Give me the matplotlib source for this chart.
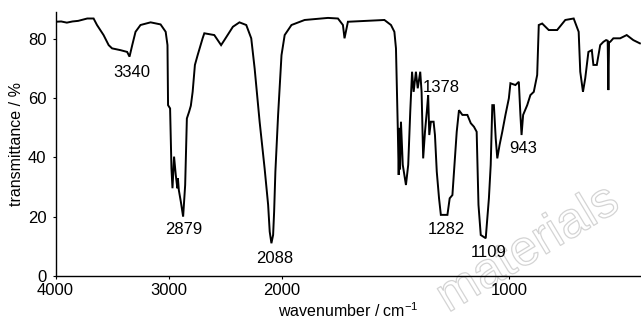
import numpy as np
import matplotlib
matplotlib.use("Agg")
import matplotlib.pyplot as plt
from matplotlib import patheffects as pe

# ---- data ----
wavenumber = [4000, 3950, 3900, 3850, 3800, 3720, 3664, 3634, 3576, 3531, 3501, 3427, 3368, 3347,
              3323, 3294, 3250, 3161, 3073, 3028, 3012, 3007, 2989, 2977, 2968, 2954, 2939, 2925,
              2920, 2912, 2894, 2874, 2856, 2841, 2821, 2806, 2790, 2770, 2746, 2702, 2687, 2599,
              2539, 2510, 2435, 2377, 2317, 2273, 2243, 2199, 2155, 2124, 2110, 2095, 2080, 2071,
              2060, 2036, 2006, 1989, 1959, 1901, 1798, 1754, 1732, 1725, 1710, 1549, 1520, 1505,
              1498, 1490, 1486, 1482, 1480, 1476, 1468, 1454, 1444, 1435, 1427, 1420, 1410, 1402,
              1391, 1385, 1378, 1370, 1362, 1356, 1351, 1344, 1332, 1326, 1318, 1308, 1300, 1271,
              1261, 1249, 1239, 1230, 1220, 1205, 1183, 1168, 1154, 1142, 1134, 1124, 1102, 1088,
              1080, 1073, 1066, 1058, 1051, 1041, 1029, 1015, 1000, 993, 971, 956, 949, 944, 937,
              919, 905, 890, 875, 868, 853, 824, 787, 751, 714, 692, 685, 673, 663, 649, 634, 627,
              612, 597, 583, 571, 564, 561, 558, 553, 539, 509, 480, 451, 422]
transmittance = [85.9, 86.0, 85.6, 86.0, 86.2, 87.0, 87.0, 84.8, 81.4, 78.0, 76.9, 76.3, 75.7, 74.1,
                 78.0, 82.5, 84.8, 85.7, 85.0, 82.5, 78.0, 57.7, 56.6, 36.3, 29.6, 40.3, 34.1, 29.6,
                 33.0, 29.0, 25.0, 20.0, 30.7, 53.2, 55.5, 57.5, 62.2, 71.3, 74.6, 80.3, 82.0, 81.4,
                 78.0, 79.7, 84.2, 85.7, 84.8, 80.3, 70.1, 52.1, 36.3, 24.0, 14.9, 11.0, 13.8, 21.7,
                 35.2, 54.4, 74.6, 81.4, 84.8, 86.5, 87.2, 87.0, 84.8, 80.3, 85.9, 86.5, 84.8, 82.5,
                 76.9, 49.9, 34.1, 50.0, 36.0, 52.1, 37.5, 30.7, 37.5, 55.5, 69.0, 62.2, 69.0, 63.4,
                 69.0, 62.2, 39.7, 48.7, 55.5, 61.1, 47.6, 52.1, 52.1, 47.6, 35.2, 26.2, 20.6, 20.6,
                 26.2, 27.3, 38.6, 48.7, 56.0, 54.4, 54.4, 51.6, 50.4, 48.7, 24.0, 13.8, 12.7, 26.2,
                 37.5, 57.7, 57.7, 46.5, 39.7, 44.2, 48.7, 54.4, 60.0, 65.1, 64.5, 65.6, 54.4, 47.6, 54.4,
                 57.7, 61.1, 62.2, 67.9, 84.8, 85.3, 83.1, 83.1, 86.5, 87.0, 82.5, 69.0, 62.2, 66.8, 75.7, 76.3, 71.3,
                 71.3, 78.0, 79.1, 79.7, 79.5, 62.8, 79.0, 79.1, 80.3, 80.3, 81.4, 79.7, 78.6]

peak_labels = ["3340", "2879", "2088", "1378", "1282", "1109", "943"]
peak_label_x = [3329, 2868, 2068, 1300, 1274, 1089, 935]
peak_label_y = [68.6, 15.5, 6.0, 63.8, 15.5, 8.0, 43.2]

x_ticks = [4000, 3000, 2000, 1000]
y_ticks = [0, 20, 40, 60, 80]

FONT = ['Liberation Sans', 'DejaVu Sans']
plt.rcParams['font.family'] = FONT
plt.rcParams['mathtext.default'] = 'regular'
FS = 12


def fwd(w):
    w = np.asarray(w, dtype=float)
    return np.where(w >= 2000, w, 2 * w - 2000)


def inv(u):
    u = np.asarray(u, dtype=float)
    return np.where(u >= 2000, u, (u + 2000) / 2)


fig = plt.figure(figsize=(6.41, 3.25), dpi=100)

# faint watermark seen in the reference (drawn behind everything)
fig.text(448 / 641, (325 - 313) / 325, 'materials', rotation=31, rotation_mode='anchor',
         ha='left', va='baseline', fontsize=36, family=['Liberation Sans', 'DejaVu Sans'],
         color='none', zorder=-5,
         path_effects=[pe.withStroke(linewidth=0.9, foreground='#d4d4d4')])

ax = fig.add_axes([0.0866, 0.1514, 1.0 - 0.0866, 0.964 - 0.1514])
ax.patch.set_alpha(0)
ax.set_xscale('function', functions=(fwd, inv))
ax.plot(wavenumber, transmittance, color='black', lw=1.4, solid_joinstyle='miter')
ax.set_xlim(4000, 417)
ax.set_ylim(0, 89.3)
ax.set_xticks(x_ticks)
ax.set_xticklabels([str(t) for t in x_ticks])
ax.set_yticks(y_ticks)
ax.xaxis.set_minor_locator(matplotlib.ticker.NullLocator())
for s in ['top', 'right']:
    ax.spines[s].set_visible(False)
for s in ['left', 'bottom']:
    ax.spines[s].set_linewidth(1.0)
ax.tick_params(direction='out', length=2.5, width=0.8, labelsize=FS, pad=4)
ax.tick_params(axis='x', pad=3)
ax.set_xlabel('wavenumber / cm$^{-1}$', fontsize=FS - 0.5, labelpad=2)
ax.set_ylabel('transmittance / %', fontsize=FS - 0.5, labelpad=3)

for lab, xx, yy in zip(peak_labels, peak_label_x, peak_label_y):
    ax.text(xx, yy, lab, ha='center', va='center', fontsize=FS)

fig.savefig('out.png', dpi=100)
